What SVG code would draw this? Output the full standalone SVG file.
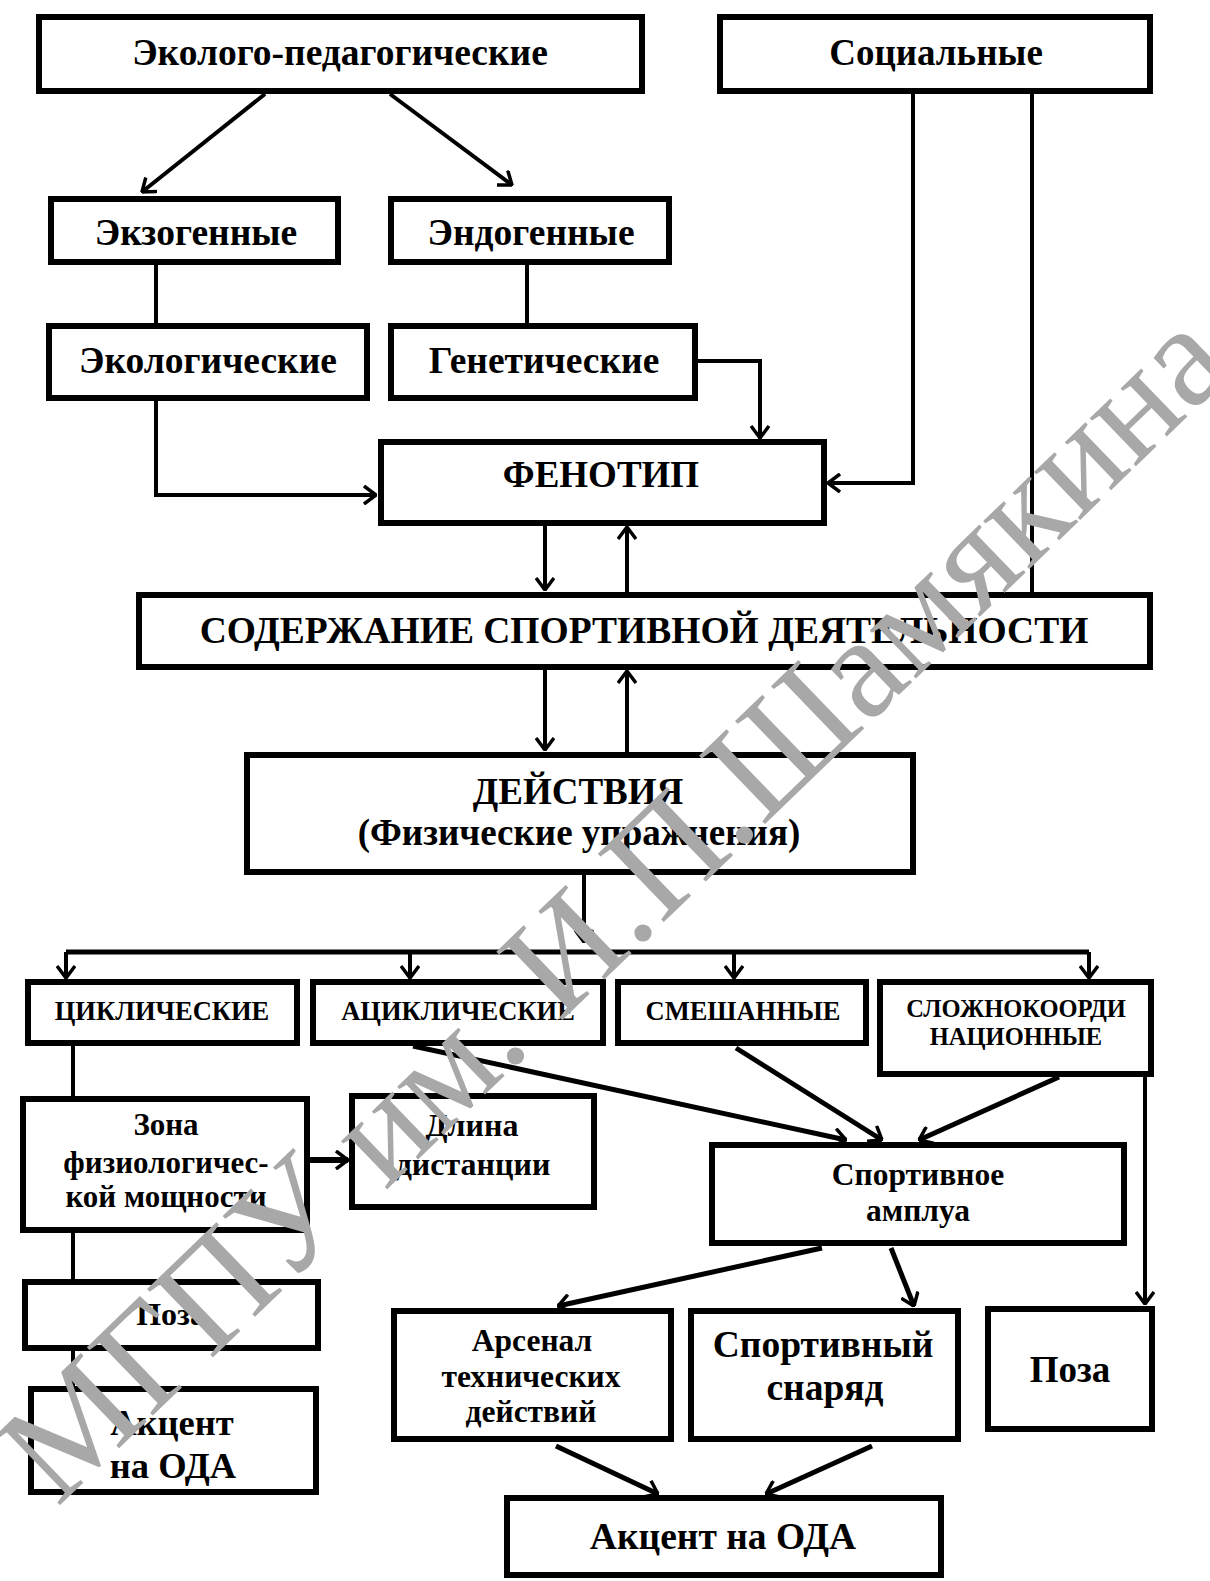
<svg xmlns="http://www.w3.org/2000/svg" width="1210" height="1581" viewBox="0 0 1210 1581">
<style>
.box{fill:#fff;stroke:#000;stroke-width:6}
.t{font-family:"Liberation Serif","Times New Roman",serif;font-weight:bold;fill:#000;text-anchor:middle}
.c{fill:none;stroke:#000;stroke-width:4;stroke-linejoin:miter}
.a{marker-end:url(#ah)}
.wm{font-family:"Liberation Serif","Times New Roman",serif;fill:#a8a8a8}
</style>
<defs>
<marker id="ah" viewBox="0 0 14 20" refX="13" refY="10" markerWidth="14" markerHeight="20" markerUnits="userSpaceOnUse" orient="auto">
<path d="M1,1 L13,10 L1,19" fill="none" stroke="#000" stroke-width="3.5"/>
</marker>
</defs>
<rect width="1210" height="1581" fill="#fff"/>
<g id="connectors">
<path class="c a" d="M265,94 L142,192"/>
<path class="c a" d="M390,94 L512,185"/>
<path class="c" d="M156,265 L156,323"/>
<path class="c" d="M527,265 L527,323"/>
<path class="c a" d="M156,401 L156,495 L376,495"/>
<path class="c a" d="M698,361 L760,361 L760,438"/>
<path class="c a" d="M913,94 L913,483 L828,483"/>
<path class="c" d="M1032,94 L1032,592"/>
<path class="c a" d="M545,526 L545,590"/>
<path class="c a" d="M627,592 L627,527"/>
<path class="c a" d="M545,670 L545,750"/>
<path class="c a" d="M627,752 L627,671"/>
<path class="c a" d="M584,875 L584,942"/>
<path class="c" d="M66,952 L1089,952" style="stroke-width:5"/>
<path class="c a" d="M66,952 L66,978"/>
<path class="c a" d="M410,952 L410,978"/>
<path class="c a" d="M734,952 L734,978"/>
<path class="c a" d="M1089,952 L1089,978"/>
<path class="c" d="M73,1046 L73,1096"/>
<path class="c" d="M73,1233 L73,1279"/>
<path class="c" d="M73,1351 L73,1386"/>
<path class="c a" d="M310,1160 L348,1160" style="stroke-width:6"/>
<path class="c a" d="M413,1046 L846,1140" style="stroke-width:5"/>
<path class="c a" d="M736,1048 L882,1140" style="stroke-width:5"/>
<path class="c a" d="M1059,1077 L919,1140" style="stroke-width:5"/>
<path class="c a" d="M1145,1077 L1145,1304"/>
<path class="c a" d="M822,1248 L558,1306" style="stroke-width:5"/>
<path class="c a" d="M891,1248 L914,1306" style="stroke-width:5"/>
<path class="c a" d="M556,1446 L658,1494" style="stroke-width:5"/>
<path class="c a" d="M872,1446 L766,1494" style="stroke-width:5"/>
</g>
<g id="n-eco-ped"><rect class="box" x="39" y="17" width="603" height="74"/><text class="t" x="340" y="65" font-size="37.5">Эколого-педагогические</text></g>
<g id="n-social"><rect class="box" x="720" y="17" width="430" height="74"/><text class="t" x="936" y="65" font-size="37">Социальные</text></g>
<g id="n-exo"><rect class="box" x="51" y="199" width="287" height="63"/><text class="t" x="196" y="245" font-size="37.5">Экзогенные</text></g>
<g id="n-endo"><rect class="box" x="391" y="199" width="278" height="63"/><text class="t" x="531" y="245" font-size="37.5">Эндогенные</text></g>
<g id="n-ecol"><rect class="box" x="49" y="326" width="318" height="72"/><text class="t" x="208" y="373" font-size="37.5">Экологические</text></g>
<g id="n-gen"><rect class="box" x="391" y="326" width="304" height="72"/><text class="t" x="544" y="373" font-size="37.5">Генетические</text></g>
<g id="n-pheno"><rect class="box" x="381" y="442" width="443" height="81"/><text class="t" x="601" y="487" font-size="37">ФЕНОТИП</text></g>
<g id="n-content"><rect class="box" x="139" y="595" width="1011" height="72"/><text class="t" x="644" y="643" font-size="37.5">СОДЕРЖАНИЕ СПОРТИВНОЙ ДЕЯТЕЛЬНОСТИ</text></g>
<g id="n-actions"><rect class="box" x="247" y="755" width="666" height="117"/><text class="t" x="578" y="804" font-size="37">ДЕЙСТВИЯ</text><text class="t" x="579" y="845" font-size="37">(Физические упражнения)</text></g>
<g id="n-cyc"><rect class="box" x="28" y="982" width="269" height="61"/><text class="t" x="162" y="1020" font-size="26.5">ЦИКЛИЧЕСКИЕ</text></g>
<g id="n-acyc"><rect class="box" x="313" y="982" width="290" height="61"/><text class="t" x="458" y="1020" font-size="26.5">АЦИКЛИЧЕСКИЕ</text></g>
<g id="n-mixed"><rect class="box" x="618" y="982" width="248" height="61"/><text class="t" x="743" y="1020" font-size="26.5">СМЕШАННЫЕ</text></g>
<g id="n-complex"><rect class="box" x="880" y="982" width="271" height="92"/><text class="t" x="1016" y="1017" font-size="24.5">СЛОЖНОКООРДИ</text><text class="t" x="1016" y="1045" font-size="24.5">НАЦИОННЫЕ</text></g>
<g id="n-zone"><rect class="box" x="23" y="1099" width="284" height="131"/><text class="t" x="166" y="1135" font-size="31">Зона</text><text class="t" x="166" y="1173" font-size="31">физиологичес-</text><text class="t" x="166" y="1207" font-size="31">кой мощности</text></g>
<g id="n-dist"><rect class="box" x="352" y="1096" width="242" height="111"/><text class="t" x="472" y="1136" font-size="32">Длина</text><text class="t" x="473" y="1175" font-size="32">дистанции</text></g>
<g id="n-role"><rect class="box" x="712" y="1145" width="412" height="98"/><text class="t" x="918" y="1185" font-size="31.5">Спортивное</text><text class="t" x="918" y="1221" font-size="31.5">амплуа</text></g>
<g id="n-pose1"><rect class="box" x="25" y="1282" width="293" height="66"/><text class="t" x="171" y="1325" font-size="32">Поза</text></g>
<g id="n-accent1"><rect class="box" x="31" y="1389" width="285" height="103"/><text class="t" x="172" y="1435" font-size="36.5">Акцент</text><text class="t" x="173" y="1478" font-size="36.5">на ОДА</text></g>
<g id="n-arsenal"><rect class="box" x="394" y="1311" width="277" height="128"/><text class="t" x="532" y="1351" font-size="31.5">Арсенал</text><text class="t" x="531" y="1387" font-size="31.5">технических</text><text class="t" x="531" y="1422" font-size="31.5">действий</text></g>
<g id="n-apparatus"><rect class="box" x="691" y="1311" width="267" height="128"/><text class="t" x="823" y="1357" font-size="37.5">Спортивный</text><text class="t" x="825" y="1400" font-size="37.5">снаряд</text></g>
<g id="n-pose2"><rect class="box" x="988" y="1309" width="164" height="120"/><text class="t" x="1070" y="1382" font-size="37">Поза</text></g>
<g id="n-accent2"><rect class="box" x="507" y="1498" width="434" height="77"/><text class="t" x="723" y="1549" font-size="37.5">Акцент на ОДА</text></g>
<text class="wm" x="57" y="1508" font-size="145" transform="rotate(-44 57 1508)">МГПУ им. И.П.Шамякина</text>
</svg>
